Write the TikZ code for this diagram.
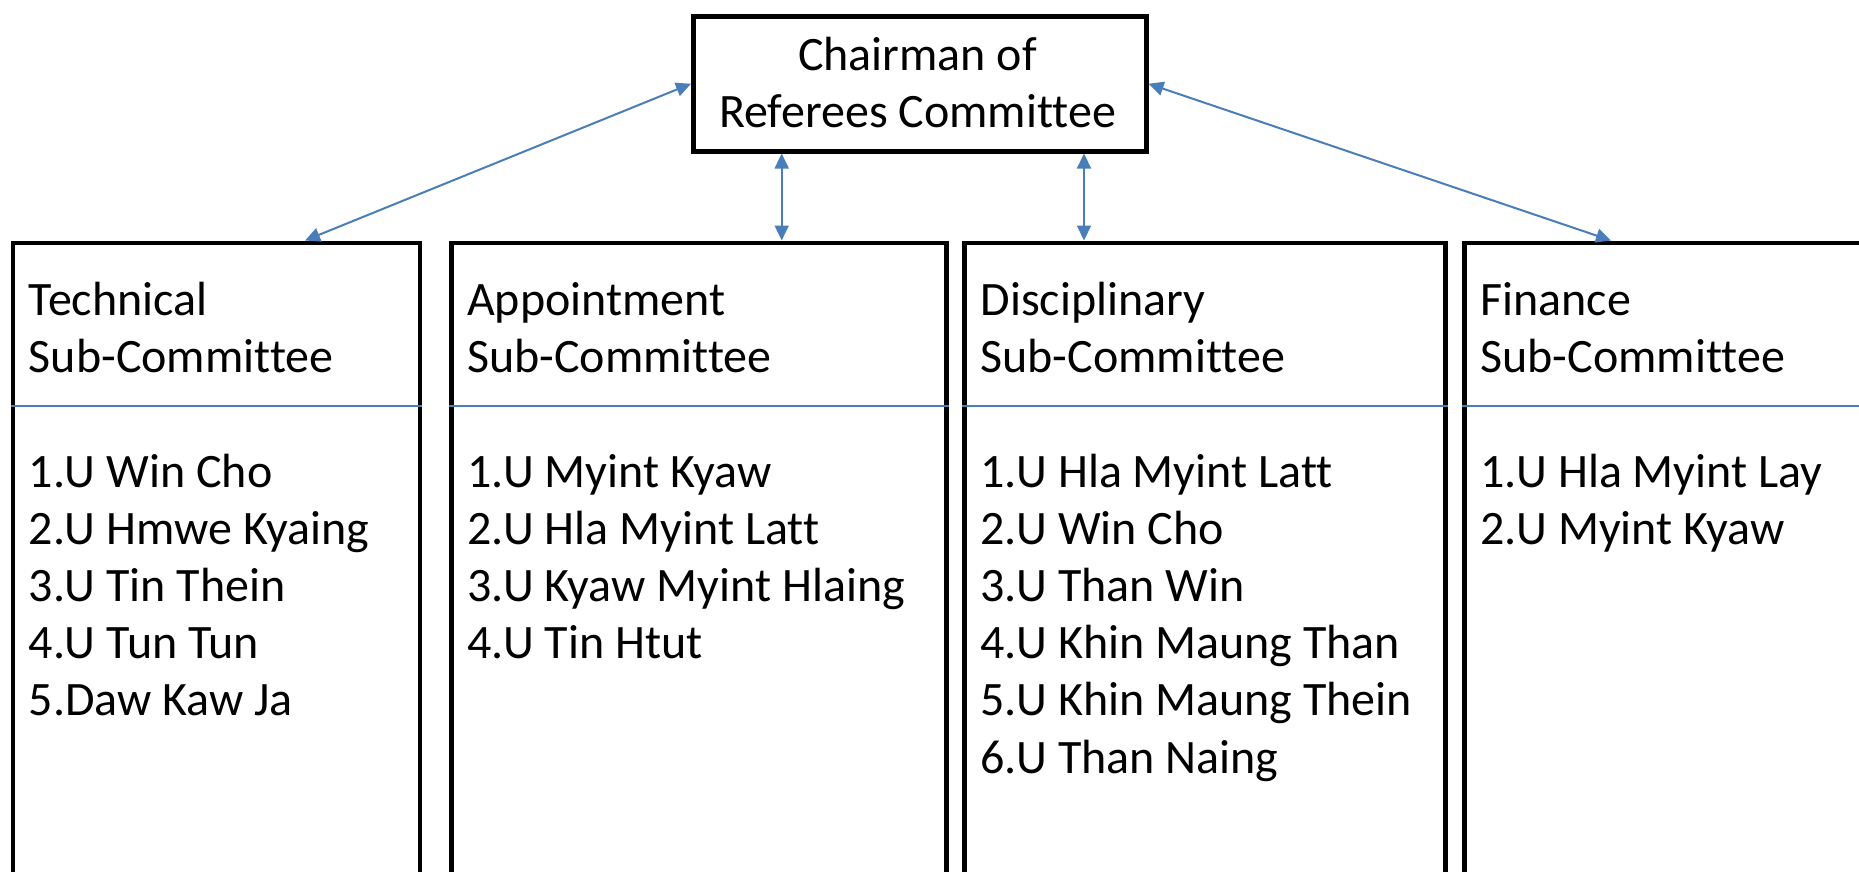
\documentclass[tikz,border=0pt]{standalone}
\usepackage{fontspec}
\setmainfont{Carlito}[Ligatures={NoCommon}]
\usetikzlibrary{arrows.meta}
\definecolor{linkblue}{HTML}{4A7EBB}
\tikzset{
  box/.style={draw=black, line width=4.5pt, inner sep=0pt, anchor=north west},
  txt/.style={anchor=base west, inner sep=0pt, font=\fontsize{48}{57}\selectfont},
  ctxt/.style={anchor=base, inner sep=0pt, font=\fontsize{48}{57}\selectfont},
  link/.style={draw=linkblue, line width=2pt, {Triangle[length=15pt,width=14pt]}-{Triangle[length=15pt,width=14pt]}},
  divider/.style={draw=linkblue, line width=2pt}
}
\begin{document}
\begin{tikzpicture}[x=1pt,y=-1pt]
\useasboundingbox (0,0) rectangle (1859,871);
\clip (0,0) rectangle (1859,871);
\fill[white] (0,0) rectangle (1859,871);

% boxes
\node[box, minimum width=453pt, minimum height=135pt] (chair) at (691,14) {};
\node[box, minimum width=407pt, minimum height=800pt] (tech) at (10.7,240.5) {};
\node[box, minimum width=495.3pt, minimum height=800pt] (appt) at (449,240.5) {};
\node[box, minimum width=480.7pt, minimum height=800pt] (disc) at (962.3,240.5) {};
\node[box, minimum width=600pt, minimum height=800pt] (fin) at (1462.3,240.5) {};

% helper coordinates
\coordinate (v1) at (781.7,0);
\coordinate (v2) at (1084,0);
\coordinate (d1) at (305,0);
\coordinate (d2) at (1611,0);
\coordinate (dv) at (0,406);

% connectors
\draw[link] (chair.west) -- (tech.north -| d1);
\draw[link] (chair.east) -- (fin.north -| d2);
\draw[link] (chair.south -| v1) -- (appt.north -| v1);
\draw[link] (chair.south -| v2) -- (disc.north -| v2);

% dividers
\draw[divider] (tech.west |- dv) -- (tech.east |- dv);
\draw[divider] (appt.west |- dv) -- (appt.east |- dv);
\draw[divider] (disc.west |- dv) -- (disc.east |- dv);
\draw[divider] (fin.west |- dv) -- (fin.east |- dv);

% chairman text
\node[ctxt] (chair-a) at (917.5,70) {Chairman of};
\node[ctxt] (chair-b) at (917.5,127) {Referees Committee};

% headers
\foreach \n/\x/\h in {tech/28.7/Technical, appt/467/Appointment, disc/980.3/Disciplinary, fin/1480.3/Finance}{
  \node[txt] (\n-h1) at (\x,315) {\h};
  \node[txt] (\n-h2) at (\x,372) {Sub-Committee};
}

% lists
\foreach \t [count=\i] in {1.U Win Cho, 2.U Hmwe Kyaing, 3.U Tin Thein, 4.U Tun Tun, 5.Daw Kaw Ja}
  \node[txt] (tech-\i) at (28.7,{487+57.2*(\i-1)}) {\t};
\foreach \t [count=\i] in {1.U Myint Kyaw, 2.U Hla Myint Latt, 3.U Kyaw Myint Hlaing, 4.U Tin Htut}
  \node[txt] (appt-\i) at (467,{487+57.2*(\i-1)}) {\t};
\foreach \t [count=\i] in {1.U Hla Myint Latt, 2.U Win Cho, 3.U Than Win, 4.U Khin Maung Than, 5.U Khin Maung Thein, 6.U Than Naing}
  \node[txt] (disc-\i) at (980.3,{487+57.2*(\i-1)}) {\t};
\foreach \t [count=\i] in {1.U Hla Myint Lay, 2.U Myint Kyaw}
  \node[txt] (fin-\i) at (1480.3,{487+57.2*(\i-1)}) {\t};
\end{tikzpicture}
\end{document}
